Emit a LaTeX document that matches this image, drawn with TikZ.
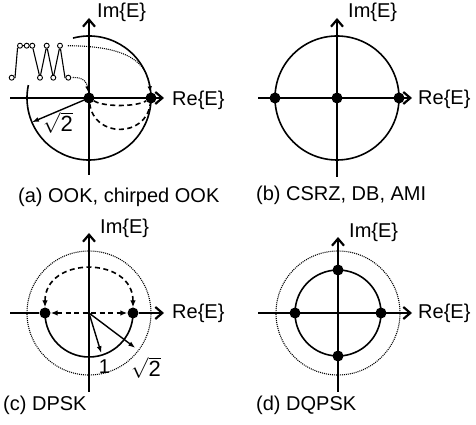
\documentclass[tikz,border=0pt]{standalone}
\usepackage{fontspec}
\setmainfont{Liberation Sans}
\usetikzlibrary{arrows.meta}

\begin{document}
\begin{tikzpicture}[
  x=1pt,y=1pt,
  every node/.style={font=\fontsize{20}{24}\selectfont,inner sep=0pt},
  rootlbl/.style={font=\fontsize{22}{26}\selectfont},
  axis/.style={line width=1.8pt,
    -{Straight Barb[length=7pt,width=12pt,line width=2.2pt]}},
  ring/.style={line width=1.6pt},
  dotring/.style={line width=1.1pt,dash pattern=on 1pt off 1pt},
  symb/.style={circle,fill=black,minimum size=11pt},
  sample/.style={circle,draw,fill=white,line width=.9pt,minimum size=5pt},
  arr/.style={line width=1.4pt,-{Latex[length=7pt,width=5pt]}},
  dasharr/.style={line width=1.6pt,dash pattern=on 5pt off 3.5pt},
  dotarr/.style={line width=1.1pt,dash pattern=on 1pt off 1pt,
    -{Latex[length=6pt,width=4.5pt]}}]
  \path[use as bounding box] (0,0) rectangle (476,425);

  % Panel a: OOK with waveform and chirp paths.
  \begin{scope}[shift={(89,327)}]
    \coordinate (aW) at (-79,0);
    \coordinate (aE) at (75,0);
    \coordinate (aS) at (0,-77);
    \coordinate (aN) at (0,80);
    \draw[ring] (105:62) arc[start angle=105,end angle=-192,radius=62];
    \draw[axis] (aW) -- (aE);
    \draw[axis] (aS) -- (aN);
    \node[anchor=west] (aIm) at (8,86) {Im\{E\}};
    \node[anchor=west] (aRe) at (83,-2) {Re\{E\}};
    \node[symb] (aO) at (0,0) {};
    \node[symb] (aR) at (62,0) {};
    \coordinate (aTip) at (203:62);
    \draw[arr] (aO.center) -- (aTip);
    \node[rootlbl] (aRad) at (-31,-25) {$\sqrt{\mbox{2}}$};
    \draw[dasharr] (aO) .. controls (15,-9) and (47,-9) .. (aR);
    \draw[dasharr] (aO) .. controls (5,-40) and (57,-40) .. (aR);
    % waveform samples
    \foreach \x [count=\i] in {-69,-62.3,-56.7,-42.3,-29}
      \node[sample] (t\i) at (\x,52.3) {};
    \foreach \x [count=\i] in {-77.3,-49,-35.7,-20.7}
      \node[sample] (b\i) at (\x,20.3) {};
    \draw[line width=1.1pt] (b1) -- (-74,20.3) -- (-71.5,49.5) -- (t1)
      -- (t2) -- (t3) -- (b2) -- (t4) -- (b3) -- (t5) -- (-24,20.3) -- (b4);
    \draw[dotarr,shorten <=5pt] (t5) .. controls (40,52) and (58,35) .. (aR);
    \draw[dotarr,shorten <=1.5pt] (b4) .. controls (-5,21) and (-2,15) .. (aO);
    \node[anchor=west] (aCap) at (-71,-99) {(a) OOK, chirped OOK};
  \end{scope}

  % Panel b: three levels on the real axis.
  \begin{scope}[shift={(337,327)}]
    \coordinate (bW) at (-79,0);
    \coordinate (bE) at (75,0);
    \coordinate (bS) at (0,-79);
    \coordinate (bN) at (0,80);
    \draw[ring] (0,0) circle[radius=62];
    \draw[axis] (bW) -- (bE);
    \draw[axis] (bS) -- (bN);
    \node[anchor=west] (bIm) at (11,86) {Im\{E\}};
    \node[anchor=west] (bRe) at (81,-1) {Re\{E\}};
    \node[symb] (bL) at (-62,0) {};
    \node[symb] (bO) at (0,0) {};
    \node[symb] (bR) at (62,0) {};
    \node[anchor=west] (bCap) at (-81,-97) {(b) CSRZ, DB, AMI};
  \end{scope}

  % Panel c: binary phase, unit and root-two circles.
  \begin{scope}[shift={(89,112)}]
    \coordinate (cW) at (-79,0);
    \coordinate (cE) at (75,0);
    \coordinate (cS) at (0,-79);
    \coordinate (cN) at (0,80);
    \coordinate (cO) at (0,0);
    \draw[dotring] (0,0) circle[radius=62];
    \draw[ring] (-44,0) arc[start angle=180,end angle=360,radius=44];
    \draw[axis] (cS) -- (cN);
    \node[symb] (cL) at (-44,0) {};
    \node[symb] (cR) at (44,0) {};
    \draw[line width=1.8pt] (cW) -- (cL);
    \draw[axis] (cR) -- (cE);
    \draw[dasharr,{Latex[length=7pt,width=5.5pt]}-{Latex[length=7pt,width=5.5pt]}]
      (cR) to[out=90,in=90,looseness=1.5] (cL);
    \draw[dasharr,{Latex[length=7pt,width=5.5pt]}-{Latex[length=7pt,width=5.5pt]}]
      (cL) -- (cR);
    \coordinate (cOne) at (-73:42);
    \coordinate (cTwo) at (-37:58);
    \draw[arr] (cO) -- (cOne);
    \draw[arr] (cO) -- (cTwo);
    \node (cOneL) at (15.5,-54) {1};
    \node[rootlbl] (cTwoL) at (57,-55) {$\sqrt{\mbox{2}}$};
    \node[anchor=west] (cIm) at (11,85) {Im\{E\}};
    \node[anchor=west] (cRe) at (83,0) {Re\{E\}};
    \node[anchor=west] (cCap) at (-86,-92) {(c) DPSK};
  \end{scope}

  % Panel d: four phases.
  \begin{scope}[shift={(338,112)}]
    \coordinate (dW) at (-80,0);
    \coordinate (dE) at (74,0);
    \coordinate (dS) at (0,-79);
    \coordinate (dN) at (0,76);
    \draw[dotring] (0,0) circle[radius=62];
    \draw[ring] (0,0) circle[radius=43];
    \draw[axis] (dW) -- (dE);
    \draw[axis] (dS) -- (dN);
    \node[symb] (dT) at (0,43) {};
    \node[symb] (dR) at (43,0) {};
    \node[symb] (dB) at (0,-43) {};
    \node[symb] (dL) at (-43,0) {};
    \node[anchor=west] (dIm) at (11,81) {Im\{E\}};
    \node[anchor=west] (dRe) at (80,0) {Re\{E\}};
    \node[anchor=west] (dCap) at (-82,-92) {(d) DQPSK};
  \end{scope}
\end{tikzpicture}
\end{document}
